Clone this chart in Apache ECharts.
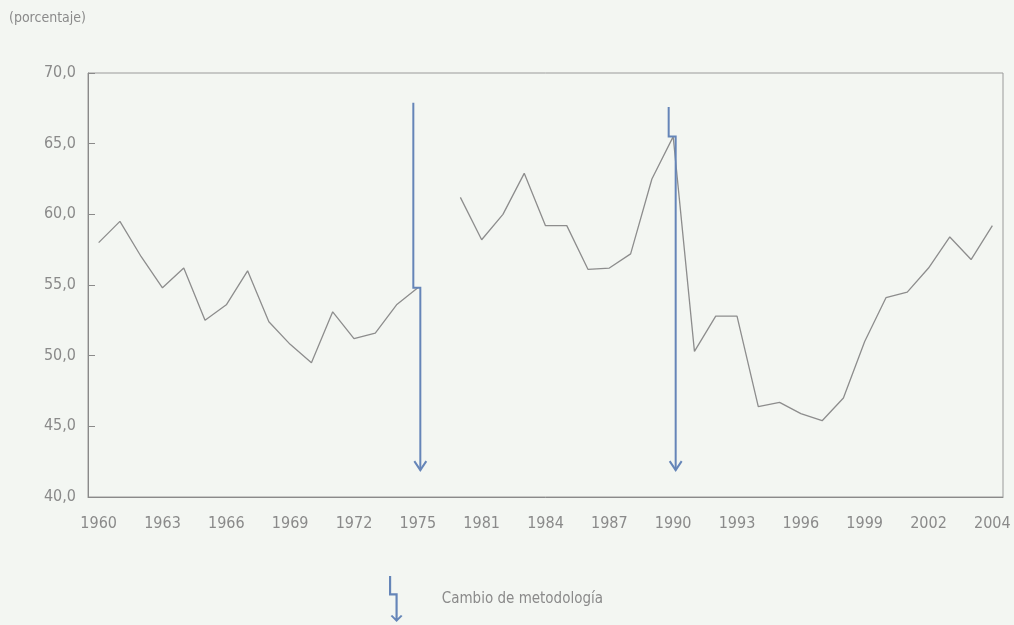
<!DOCTYPE html>
<html>
<head>
<meta charset="utf-8">
<script src="https://cdn.jsdelivr.net/npm/echarts@6/dist/echarts.min.js"></script>
<style>
  html, body { margin: 0; padding: 0; background: #f3f6f2; }
  #chart { width: 1014px; height: 625px; }
</style>
</head>
<body>
<div id="chart"></div>
<script>
// x categories (one slot left empty between the two periods)
var years = ['1960', '1961', '1962', '1963', '1964', '1965', '1966', '1967', '1968', '1969',
  '1970', '1971', '1972', '1973', '1974', '1975', '',
  '1980', '1981', '1982', '1983', '1984', '1985', '1986', '1987', '1988', '1989',
  '1990', '1991', '1992', '1993', '1994', '1995', '1996', '1997', '1998', '1999',
  '2000', '2001', '2002', '2003', '2003', '2004']

// percentages, first period 1960-1975
var valuesFirst = [58.0, 59.5, 57.0, 54.8, 56.2, 52.5, 53.6, 56.0, 52.4, 50.8,
  49.5, 53.1, 51.2, 51.6, 53.6, 54.8]
// percentages, second period
var valuesSecond = [61.2, 58.2, 60.0, 62.9, 59.2, 59.2, 56.1, 56.2, 57.2, 62.5,
  65.5, 50.3, 52.8, 52.8, 46.4, 46.7, 45.9, 45.4, 47.0, 51.0,
  54.1, 54.5, 56.2, 58.4, 56.8, 59.2]

// methodology change arrows: [category index, top, step, tip]
var arrowIndex = [15, 27]
var arrowTop = [67.9, 67.6]
var arrowStep = [54.8, 65.5]
var arrowTip = [41.9, 41.9]

var yTicks = [40, 45, 50, 55, 60, 65, 70]

var lineData = valuesFirst.concat([null], valuesSecond)
var arrowData = arrowIndex.map(function (v, i) {
  return [v, arrowTop[i], arrowStep[i], arrowTip[i]]
})

var font = "'Liberation Sans Narrow', 'DejaVu Sans Condensed', Roboto, sans-serif"
var grey = '#8a8a8a'
var arrowColor = '#6585b8'

var chart = echarts.init(document.getElementById('chart'))

var option = {
  backgroundColor: '#f3f6f2',
  animation: false,
  title: {
    text: '(porcentaje)',
    left: 4,
    top: 6,
    textStyle: { color: grey, fontSize: 14, fontWeight: 'normal', fontFamily: font }
  },
  legend: {
    left: 384,
    top: 571,
    itemWidth: 54,
    itemHeight: 46,
    data: [{
      name: 'Cambio de metodología',
      icon: 'path://M0,0 L2,0 L2,16 L8,16 L8,39 L11,36 L12.5,37 L7,42.5 L1.5,37 L3,36 L6,39 L6,18 L0,18 Z'
    }],
    textStyle: { color: grey, fontSize: 15, fontFamily: font, padding: [12, 0, 0, 14] }
  },
  grid: {
    left: 88,
    right: 11,
    top: 73,
    bottom: 128,
    show: true,
    borderColor: '#9a9a9a',
    borderWidth: 1
  },
  xAxis: {
    type: 'category',
    data: years,
    boundaryGap: true,
    axisLine: { lineStyle: { color: '#8a8a8a', width: 1 } },
    axisTick: { inside: true, length: 6, interval: 0, lineStyle: { color: '#8a8a8a' } },
    axisLabel: { interval: 2, margin: 19, color: grey, fontSize: 16, fontFamily: font },
    splitLine: { show: false }
  },
  yAxis: {
    type: 'value',
    min: yTicks[0],
    max: yTicks[yTicks.length - 1],
    interval: 5,
    axisLine: { show: true, lineStyle: { color: '#8a8a8a', width: 1 } },
    axisTick: { show: true, inside: true, length: 7, lineStyle: { color: '#8a8a8a' } },
    axisLabel: {
      margin: 12,
      color: grey,
      fontSize: 16,
      fontFamily: font,
      formatter: function (v) { return v.toFixed(1).replace('.', ',') }
    },
    splitLine: { show: false }
  },
  series: [
    {
      name: 'Porcentaje',
      type: 'line',
      data: lineData,
      connectNulls: false,
      symbol: 'none',
      lineStyle: { color: '#8d8d8d', width: 1.3 },
      z: 2
    },
    {
      name: 'Cambio de metodología',
      type: 'custom',
      data: arrowData,
      itemStyle: { color: arrowColor },
      clip: false,
      z: 3,
      renderItem: function (params, api) {
        var top = api.coord([api.value(0), api.value(1)])
        var step = api.coord([api.value(0), api.value(2)])
        var tip = api.coord([api.value(0), api.value(3)])
        var xUp = top[0] - 4.5
        var xDown = top[0] + 2.5
        return {
          type: 'group',
          children: [
            {
              type: 'polyline',
              shape: { points: [[xUp, top[1]], [xUp, step[1]], [xDown, step[1]], [xDown, tip[1]]] },
              style: { stroke: arrowColor, lineWidth: 2, fill: null }
            },
            {
              type: 'polyline',
              shape: { points: [[xDown - 6, tip[1] - 9], [xDown, tip[1]], [xDown + 6, tip[1] - 9]] },
              style: { stroke: arrowColor, lineWidth: 2, fill: null }
            }
          ]
        }
      }
    }
  ]
}

chart.setOption(option, true)
</script>
</body>
</html>
